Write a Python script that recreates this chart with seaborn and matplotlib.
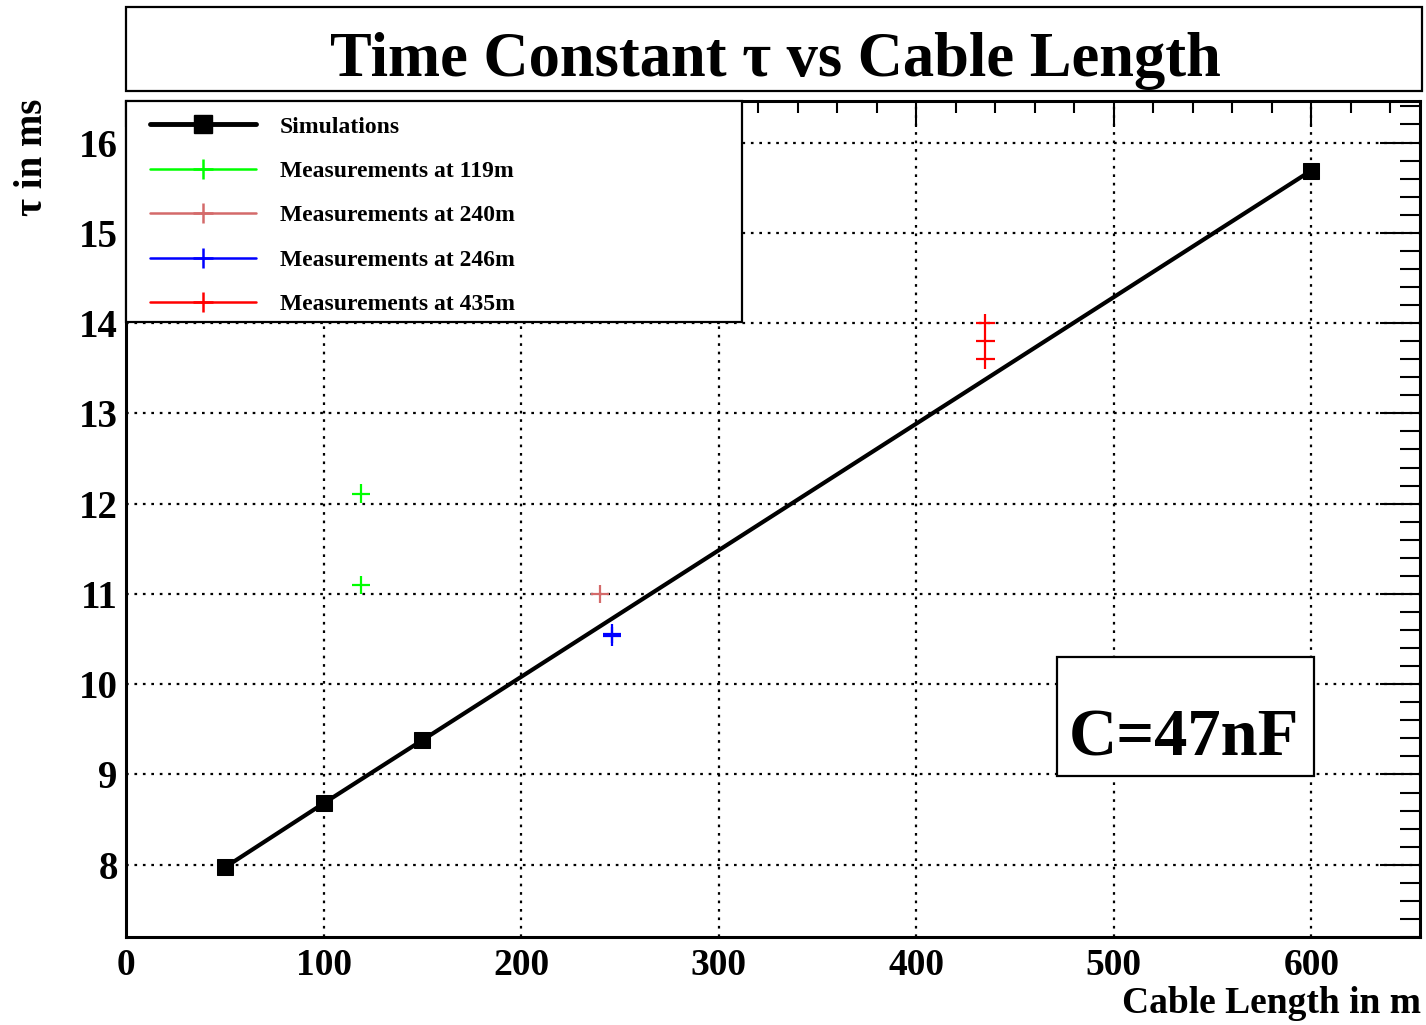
import matplotlib
matplotlib.use("Agg")
import matplotlib.pyplot as plt
import seaborn as sns
import pandas as pd
from matplotlib.lines import Line2D
from matplotlib.patches import Rectangle
from matplotlib.ticker import MultipleLocator

# ---------------- data ----------------
sim_length = [50, 100, 150, 600]
sim_tau = [7.97, 8.68, 9.38, 15.69]

meas_labels = ["Measurements at 119m", "Measurements at 240m",
               "Measurements at 246m", "Measurements at 435m"]
meas_119_length = [119, 119]
meas_119_tau = [12.11, 11.10]
meas_240_length = [240]
meas_240_tau = [11.00]
meas_246_length = [246, 246]
meas_246_tau = [10.53, 10.56]
meas_435_length = [435, 435, 435]
meas_435_tau = [14.00, 13.80, 13.60]
meas_colors = ["#00ff00", "#d46a6a", "#0000ff", "#ff0000"]

x_ticks = [0, 100, 200, 300, 400, 500, 600]
title = "Time Constant τ vs Cable Length"
xlabel = "Cable Length in m"
ylabel = "τ in ms"
box_label = "C=47nF"

# ---------------- style ----------------
sns.set_style("white")
plt.rcParams['font.family'] = ['Liberation Serif', 'DejaVu Serif']
plt.rcParams['font.weight'] = 'bold'
for k in ["text.color", "axes.labelcolor", "xtick.color", "ytick.color", "axes.edgecolor"]:
    plt.rcParams[k] = "black"

fig = plt.figure(figsize=(14.26, 10.25), dpi=100)
ax = fig.add_axes([126 / 1426, 88 / 1025, 1294 / 1426, 836 / 1025])

# simulations
sns.lineplot(x=sim_length, y=sim_tau, ax=ax, color="black", linewidth=3,
             marker="s", markersize=11.5, markeredgecolor="black",
             estimator=None, sort=False, legend=False, zorder=4)

# measurements
meas_x = [meas_119_length, meas_240_length, meas_246_length, meas_435_length]
meas_y = [meas_119_tau, meas_240_tau, meas_246_tau, meas_435_tau]
rows = []
for lab, xs, ys in zip(meas_labels, meas_x, meas_y):
    for xv, yv in zip(xs, ys):
        rows.append({"length": xv, "tau": yv, "series": lab})
df = pd.DataFrame(rows)
sns.scatterplot(data=df, x="length", y="tau", hue="series",
                palette=dict(zip(meas_labels, meas_colors)),
                marker="+", s=180, linewidth=1.6, legend=False, ax=ax, zorder=5)

ax.set_xlim(0, 655)
ax.set_ylim(7.2, 16.46)
ax.set_xticks(x_ticks)
ax.xaxis.set_minor_locator(MultipleLocator(20))
ax.yaxis.set_major_locator(MultipleLocator(1))
ax.yaxis.set_minor_locator(MultipleLocator(0.2))

ax.grid(which="major", color="black", linestyle=(0, (1.2, 2.6)), linewidth=1.6)
ax.set_axisbelow(True)

for s in ax.spines.values():
    s.set_linewidth(2.2)
    s.set_color("black")

ax.tick_params(which="both", direction="in", top=True, right=True, color="black")
ax.tick_params(axis="x", which="major", length=19, width=1.5, labelsize=27, pad=8)
ax.tick_params(axis="x", which="minor", length=8.5, width=1.5)
ax.tick_params(axis="y", which="major", length=29, width=1.5, labelsize=28, pad=6)
ax.tick_params(axis="y", which="minor", length=14.5, width=1.5)
for lab in ax.get_xticklabels() + ax.get_yticklabels():
    lab.set_fontweight("bold")

ax.set_xlabel(xlabel, fontsize=27, fontweight="bold", loc="right")
ax.xaxis.set_label_coords(1.0005, -0.059)
ax.set_ylabel(ylabel, fontsize=28, fontweight="bold", loc="top")
ax.yaxis.set_label_coords(-0.058, 1.003)

# legend (frame drawn separately for exact placement)
ax.add_patch(Rectangle((0, 1 - 221 / 836), 616 / 1294, 221 / 836, transform=ax.transAxes,
                       facecolor="white", edgecolor="black", linewidth=1.6,
                       zorder=9, clip_on=False))
handles = [Line2D([], [], color="black", lw=3.5, marker="s", markersize=12.5)]
for c in meas_colors:
    handles.append(Line2D([], [], color=c, lw=1.8, marker="+", markersize=14, markeredgewidth=1.8))
leg = ax.legend(handles, ["Simulations"] + meas_labels,
                loc="upper left", bbox_to_anchor=((150 - 126) / 1294, (937 - 116) / 836),
                borderaxespad=0, frameon=False, prop={"size": 17, "weight": "bold"},
                handlelength=4.5, handletextpad=1.0, labelspacing=0.97,
                borderpad=0)
leg.set_zorder(10)

# C=47nF box
ax.add_patch(Rectangle((0.7195, 0.1924), 0.1985, 0.1422, transform=ax.transAxes,
                       facecolor="white", edgecolor="black", linewidth=1.6, zorder=6))
ax.text(0.8175, 0.2174, box_label, transform=ax.transAxes, ha="center", va="baseline",
        fontsize=48, fontweight="bold", zorder=7)

# title box
fig.patches.append(Rectangle((126 / 1426, 1 - 91 / 1025), 1296 / 1426, 84 / 1025,
                             transform=fig.transFigure, facecolor="white",
                             edgecolor="black", linewidth=1.6))
fig.text(775 / 1426, 1 - 76 / 1025, title, ha="center", va="baseline",
         fontsize=45, fontweight="bold")

fig.savefig("out.png", dpi=100)
